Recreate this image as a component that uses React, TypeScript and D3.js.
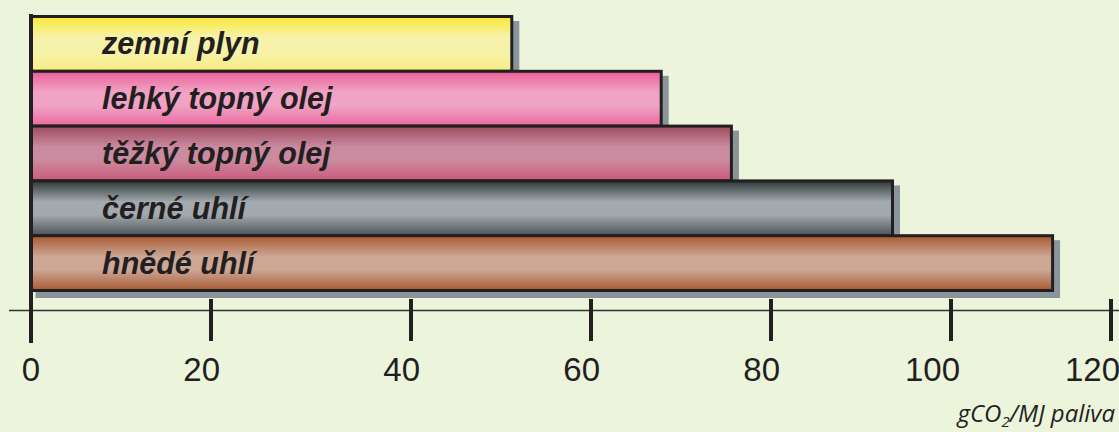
import React from "react";
import * as d3 from "d3";

// ---- data ----
const categories = ["zemní plyn", "lehký topný olej", "těžký topný olej", "černé uhlí", "hnědé uhlí"];
const values = [51.2, 67.8, 75.6, 93.5, 112.7];
const tickValues = [0, 20, 40, 60, 80, 100, 120];
const tickLabels = ["0", "20", "40", "60", "80", "100", "120"];
const gradTop = ["#f8e836", "#eb5f98", "#9e4a5e", "#2e3836", "#a9582f"];
const gradCenter = ["#f7f2aa", "#f0a3c4", "#ca8a9f", "#a2a9af", "#cca795"];
const gradBottom = ["#f6ed84", "#ea6a9f", "#cc5a7c", "#4a5356", "#a85a32"];
const unitMain = "gCO";
const unitSub = "2";
const unitRest = "/MJ paliva";

// ---- layout ----
const W = 1119;
const H = 432;
const BG = "#ecf4dc";
const INK = "#231f20";
const SHADOW = "#8a949b";
const xRange = [31, 211, 411, 591, 771, 951, 1111];
const bandTop = 16.5;
const bandBottom = 290.5;
const axisY = 310.5;
const shadowOff = 6;

export default function App() {
  const x = d3.scaleLinear().domain(tickValues).range(xRange);
  const y = d3.scaleBand<string>().domain(categories).range([bandTop, bandBottom]).padding(0);
  const bw = y.bandwidth();

  return (
    <svg
      width={W}
      height={H}
      style={{ position: "absolute", left: 0, top: 0, display: "block" }}
      xmlns="http://www.w3.org/2000/svg"
    >
      <defs>
        {categories.map((c, i) => (
          <linearGradient key={c} id={`g${i}`} x1="0" y1="0" x2="0" y2="1">
            <stop offset="0" stopColor={gradTop[i]} />
            <stop offset="0.38" stopColor={gradCenter[i]} />
            <stop offset="0.62" stopColor={gradCenter[i]} />
            <stop offset="1" stopColor={gradBottom[i]} />
          </linearGradient>
        ))}
      </defs>
      <rect x={0} y={0} width={W} height={H} fill={BG} />

      {/* shadows */}
      {categories.map((c, i) => (
        <rect
          key={"s" + c}
          x={x(0) + shadowOff}
          y={(y(c) as number) + shadowOff}
          width={x(values[i]) - x(0)}
          height={bw}
          fill={SHADOW}
          stroke={SHADOW}
          strokeWidth={3}
        />
      ))}

      {/* bars */}
      {categories.map((c, i) => (
        <rect
          key={"b" + c}
          x={x(0)}
          y={y(c) as number}
          width={x(values[i]) - x(0)}
          height={bw}
          fill={`url(#g${i})`}
          stroke={INK}
          strokeWidth={3}
        />
      ))}

      {/* bar labels */}
      {categories.map((c) => (
        <text
          key={"t" + c}
          x={x(0) + 71}
          y={(y(c) as number) + bw / 2 + 10.5}
          fontFamily="'Liberation Sans', Arial, sans-serif"
          fontWeight="bold"
          fontStyle="italic"
          fontSize={30.5}
          fill={INK}
        >
          {c}
        </text>
      ))}

      {/* axis */}
      <line x1={9} x2={W} y1={axisY} y2={axisY} stroke="#333" strokeWidth={1.3} />
      <line x1={x(0)} x2={x(0)} y1={14} y2={343} stroke={INK} strokeWidth={4} />
      {tickValues.map((t) => (
        <line key={"k" + t} x1={x(t)} x2={x(t)} y1={299} y2={341} stroke={INK} strokeWidth={4} />
      ))}
      {tickValues.map((t, i) => (
        <text
          key={"l" + t}
          x={x(t) + 9}
          y={381}
          textAnchor="end"
          fontFamily="'Liberation Sans', Arial, sans-serif"
          fontSize={33}
          fill={INK}
        >
          {tickLabels[i]}
        </text>
      ))}

      {/* unit */}
      <text
        x={1115}
        y={422}
        textAnchor="end"
        fontFamily="'Open Sans', sans-serif"
        fontStyle="italic"
        fontSize={24}
        fill={INK}
      >
        {unitMain}
        <tspan fontSize={15} dy={5}>{unitSub}</tspan>
        <tspan dy={-5}>{unitRest}</tspan>
      </text>
    </svg>
  );
}
